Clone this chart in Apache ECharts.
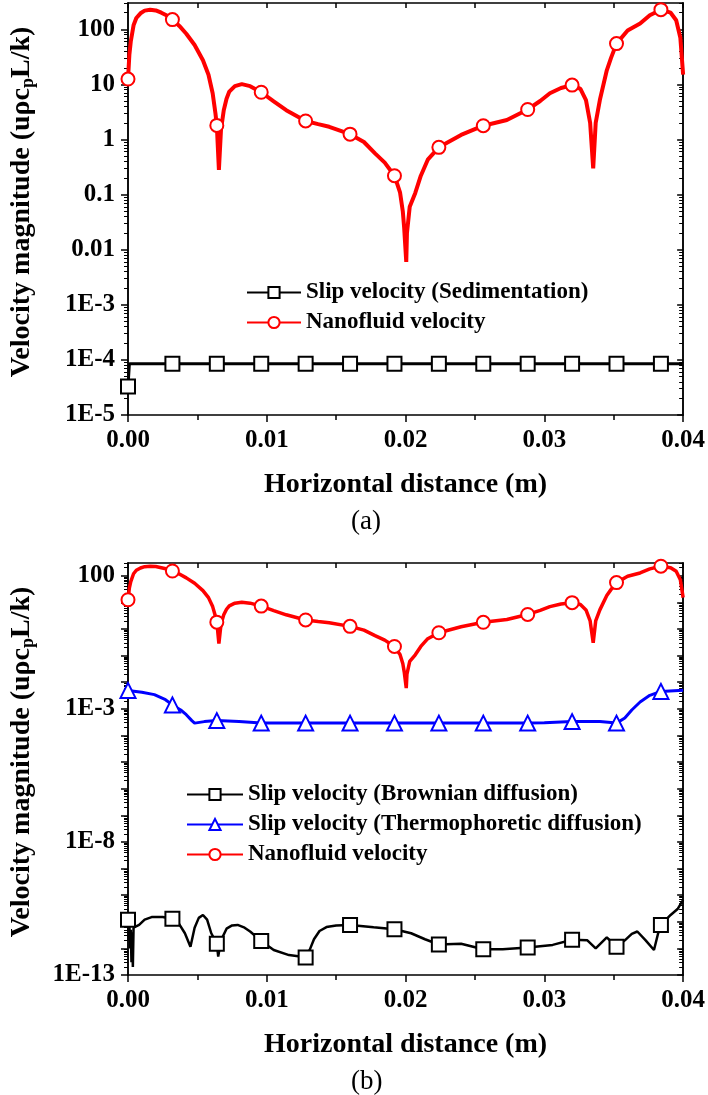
<!DOCTYPE html>
<html><head><meta charset="utf-8">
<script src="https://cdn.jsdelivr.net/npm/echarts@6/dist/echarts.min.js"></script>
<style>html,body{margin:0;padding:0;background:#fff}#c{width:708px;height:1095px}</style>
</head><body><div id="c"></div>
<script>
// ---------- data ----------
const markerX = [0, 0.0032, 0.0064, 0.0096, 0.0128, 0.016, 0.0192, 0.0224, 0.0256, 0.0288, 0.032, 0.0352, 0.0384];

// Nanofluid velocity (same curve in (a) and (b))
const nanoX = [0, 0.0001, 0.0002, 0.0004, 0.0006, 0.0009, 0.0012, 0.0016, 0.002, 0.0024, 0.0028, 0.0032, 0.0037, 0.0042, 0.0048,
  0.0054, 0.0058, 0.0061, 0.0063, 0.0064, 0.00655, 0.0067, 0.0069, 0.0071, 0.0073, 0.0077, 0.0082, 0.0088, 0.0096, 0.0105, 0.0114,
  0.0128, 0.0137, 0.0145, 0.016, 0.017, 0.0178, 0.0185, 0.0192, 0.0196, 0.0198, 0.0199, 0.02005, 0.0201, 0.0203, 0.0207, 0.0211,
  0.0216, 0.0224, 0.024, 0.0256, 0.0273, 0.0288, 0.0297, 0.0304, 0.0312, 0.032, 0.0326, 0.033, 0.0333, 0.03352, 0.0337, 0.034,
  0.0345, 0.0348, 0.0352, 0.036, 0.0369, 0.0376, 0.0384, 0.0391, 0.0395, 0.0398, 0.04];
const nanoY = [12.5, 35, 60, 118, 160, 195, 218, 227, 220, 200, 178, 150, 115, 83, 52,
  27.5, 15, 6.9, 3, 1.8, 0.28, 1.5, 3.4, 5.5, 7.4, 9.3, 10.1, 9.3, 7.2, 4.9, 3.4,
  2.17, 1.9, 1.7, 1.25, 0.9, 0.56, 0.38, 0.22, 0.11, 0.05, 0.025, 0.006, 0.02, 0.06, 0.107, 0.22,
  0.43, 0.72, 1.21, 1.78, 2.26, 3.5, 5.0, 6.9, 8.6, 9.7, 8.3, 5.2, 2, 0.3, 2, 5.2,
  18, 30, 55, 95, 127, 180, 227, 200, 146, 70, 15];

// Slip velocity (Sedimentation)
const sedX = [0, 0.0001, 0.0032, 0.0064, 0.0096, 0.0128, 0.016, 0.0192, 0.0224, 0.0256, 0.0288, 0.032, 0.0352, 0.0384, 0.04];
const sedY = [3.3e-5, 8.5e-5, 8.5e-5, 8.5e-5, 8.5e-5, 8.5e-5, 8.5e-5, 8.5e-5, 8.5e-5, 8.5e-5, 8.5e-5, 8.5e-5, 8.5e-5, 8.5e-5, 8.5e-5];

// Slip velocity (Thermophoretic diffusion)
const thermoX = [0, 0.001, 0.0019, 0.0027, 0.0032, 0.0038, 0.0042, 0.0046, 0.0048, 0.0055, 0.0064, 0.008, 0.0096, 0.0128, 0.016, 0.0192,
  0.0224, 0.0256, 0.0288, 0.030, 0.032, 0.034, 0.0352, 0.0358, 0.0363, 0.0369, 0.0376, 0.0384, 0.04];
const thermoY = [4.9e-3, 4.2e-3, 3.4e-3, 2.2e-3, 1.4e-3, 9e-4, 6e-4, 3.6e-4, 2.9e-4, 3.3e-4, 3.6e-4, 3.3e-4, 2.9e-4, 2.9e-4, 2.9e-4, 2.9e-4,
  2.9e-4, 2.9e-4, 2.9e-4, 3.0e-4, 3.3e-4, 3.3e-4, 2.9e-4, 4.5e-4, 9e-4, 1.8e-3, 3.2e-3, 4.5e-3, 5.0e-3];

// Slip velocity (Brownian diffusion)
const brownX = [0, 0.00005, 0.0001, 0.00015, 0.0002, 0.00025, 0.0003, 0.00035, 0.0004, 0.0008, 0.0012, 0.0017, 0.0025, 0.0032, 0.0037,
  0.0041, 0.0045, 0.0048, 0.0051, 0.0054, 0.0057, 0.006, 0.0064, 0.0065, 0.0067, 0.0071, 0.0075, 0.0079, 0.0084, 0.0088, 0.0096,
  0.0105, 0.0116, 0.0124, 0.0128, 0.0131, 0.0134, 0.0138, 0.0143, 0.015, 0.016, 0.0177, 0.0192, 0.0204, 0.0214, 0.0224, 0.024,
  0.0256, 0.027, 0.0288, 0.0306, 0.032, 0.0331, 0.0337, 0.0345, 0.0352, 0.0358, 0.0363, 0.0367, 0.0373, 0.0379, 0.0382, 0.0384,
  0.0391, 0.0396, 0.04];
const brownY = [1.2e-11, 2e-12, 8e-12, 1e-12, 5e-12, 3e-13, 4e-12, 2e-13, 6e-12, 7.6e-12, 1.2e-11, 1.5e-11, 1.5e-11, 1.3e-11, 8e-12,
  3.7e-12, 1.15e-12, 6e-12, 1.4e-11, 1.8e-11, 1.2e-11, 3.7e-12, 1.5e-12, 4.9e-13, 2e-12, 5.5e-12, 7.3e-12, 7.6e-12, 6e-12, 4.3e-12, 1.9e-12,
  8.7e-13, 5.6e-13, 5e-13, 4.5e-13, 9e-13, 2.2e-12, 4.5e-12, 6.3e-12, 7.3e-12, 7.6e-12, 6.2e-12, 5.2e-12, 3.7e-12, 2.2e-12, 1.4e-12, 1.5e-12,
  9.3e-13, 9.3e-13, 1.07e-12, 1.35e-12, 2.1e-12, 2e-12, 1e-12, 2.6e-12, 1.15e-12, 2e-12, 3.5e-12, 4.3e-12, 2e-12, 8.7e-13, 3.7e-12, 7.6e-12,
  1.8e-11, 3e-11, 6.6e-11];

// axis ticks
const xTickValues = [0, 0.01, 0.02, 0.03, 0.04];
const yTickValuesA = [-5, -4, -3, -2, -1, 0, 1, 2];
const yTickLabelsA = ['1E-5', '1E-4', '1E-3', '0.01', '0.1', '1', '10', '100'];
const yTickValuesB = [-13, -8, -3, 2];
const yTickLabelsB = ['1E-13', '1E-8', '1E-3', '100'];
const yMaxValue = 300;

// ---------- build ----------
const FONT = '"Liberation Serif", "Times New Roman", serif';
const LOGMAX = Math.log10(yMaxValue);
function decades(lo, hi) { const a = []; for (let d = lo; d <= Math.floor(hi); d++) a.push(d); return a; }
function minors(lo, hi) {
  const a = [];
  for (let d = lo; d < Math.ceil(hi); d++) for (let k = 2; k <= 9; k++) { const v = d + Math.log10(k); if (v <= hi) a.push(v); }
  return a;
}
function pts(xs, ys) {
  return xs.map((x, i) => {
    const isM = markerX.some(m => Math.abs(m - x) < 1e-9);
    const o = { value: [x, Math.log10(ys[i])] };
    if (!isM) o.symbol = 'none';
    return o;
  });
}
function labelFor(vals, labs) { return v => { const i = vals.findIndex(t => Math.abs(t - v) < 1e-6); return i >= 0 ? labs[i] : ''; }; }

const axisLine = { show: true, onZero: false, lineStyle: { color: '#000', width: 1.5 } };
const grids = [
  { left: 124, top: 3, width: 560, height: 412 },
  { left: 124, top: 563, width: 560, height: 412 }
];

const xAxes = [], yAxes = [];
[0, 1].forEach(g => {
  xAxes.push({
    type: 'value', gridIndex: g, min: 0, max: 0.04, interval: 0.01, position: 'bottom',
    axisLine, splitLine: { show: false },
    axisTick: { show: true, inside: false, length: 7, lineStyle: { color: '#000', width: 1.5 } },
    minorTick: { show: true, splitNumber: 2, length: 5, lineStyle: { color: '#000', width: 1.5 } },
    minorSplitLine: { show: false },
    axisLabel: { color: '#000', fontFamily: FONT, fontWeight: 'bold', fontSize: 25, margin: 13,
      customValues: xTickValues, formatter: v => v.toFixed(2) },
    name: 'Horizontal distance (m)', nameLocation: 'middle', nameGap: 56,
    nameTextStyle: { color: '#000', fontFamily: FONT, fontWeight: 'bold', fontSize: 28 }
  });
  xAxes.push({
    type: 'value', gridIndex: g, min: 0, max: 0.04, interval: 0.005, position: 'top',
    axisLine, splitLine: { show: false }, axisLabel: { show: false },
    axisTick: { show: true, inside: true, length: 5, lineStyle: { color: '#000', width: 1.5 } }
  });
  const lo = g === 0 ? -5 : -13;
  const tv = g === 0 ? yTickValuesA : yTickValuesB;
  const tl = g === 0 ? yTickLabelsA : yTickLabelsB;
  const base = { type: 'value', gridIndex: g, min: lo, max: LOGMAX, splitLine: { show: false }, axisLine };
  yAxes.push(Object.assign({}, base, {
    position: 'left',
    axisTick: { show: true, inside: false, length: 7, customValues: decades(lo, LOGMAX), lineStyle: { color: '#000', width: 1.5 } },
    axisLabel: { color: '#000', fontFamily: FONT, fontWeight: 'bold', fontSize: 25, margin: 13, customValues: tv, formatter: labelFor(tv, tl) },
    name: 'Velocity magnitude (uρc{sub|p}L/k)', nameLocation: 'middle', nameGap: 91,
    nameTextStyle: { color: '#000', fontFamily: FONT, fontWeight: 'bold', fontSize: 28, padding: [0, 0, 0, 14],
      rich: { sub: { fontFamily: FONT, fontWeight: 'bold', fontSize: 18, color: '#000', verticalAlign: 'bottom', padding: [12, 0, 0, 0] } } }
  }));
  yAxes.push(Object.assign({}, base, {
    position: 'left', axisLabel: { show: false },
    axisTick: { show: true, inside: false, length: 4, customValues: minors(lo, LOGMAX), lineStyle: { color: '#000', width: 1 } }
  }));
  yAxes.push(Object.assign({}, base, {
    position: 'right', axisLabel: { show: false },
    axisTick: { show: true, inside: true, length: 6, customValues: decades(lo, LOGMAX), lineStyle: { color: '#000', width: 1.5 } }
  }));
  yAxes.push(Object.assign({}, base, {
    position: 'right', axisLabel: { show: false },
    axisTick: { show: true, inside: true, length: 4, customValues: minors(lo, LOGMAX), lineStyle: { color: '#000', width: 1 } }
  }));
});

function lineSeries(name, g, xs, ys, color, symbol, width, size) {
  return {
    type: 'line', name, xAxisIndex: g * 2, yAxisIndex: g * 4, data: pts(xs, ys),
    symbol, symbolSize: size, showAllSymbol: true, smooth: false,
    lineStyle: { color, width }, itemStyle: { color, borderColor: color, borderWidth: 1.5 },
    emphasis: { disabled: true }, animation: false, z: name.startsWith('Nano') ? 3 : 2
  };
}

const legendText = { color: '#000', fontFamily: FONT, fontWeight: 'bold', fontSize: 23 };
const option = {
  animation: false,
  backgroundColor: '#fff',
  grid: grids,
  xAxis: xAxes,
  yAxis: yAxes,
  legend: [
    { orient: 'vertical', left: 241, top: 276, itemWidth: 54, itemHeight: 14, itemGap: 7, textStyle: legendText,
      data: ['Slip velocity (Sedimentation)', 'Nanofluid velocity'], selectedMode: false },
    { orient: 'vertical', left: 181, top: 778, itemWidth: 56, itemHeight: 14, itemGap: 7, textStyle: legendText,
      data: ['Slip velocity (Brownian diffusion)', 'Slip velocity (Thermophoretic diffusion)', 'Nanofluid velocity'], selectedMode: false }
  ],
  title: [
    { text: '(a)', left: 346, top: 503, textStyle: { color: '#000', fontFamily: FONT, fontWeight: 'normal', fontSize: 27 } },
    { text: '(b)', left: 346, top: 1063, textStyle: { color: '#000', fontFamily: FONT, fontWeight: 'normal', fontSize: 27 } }
  ],
  series: [
    lineSeries('Slip velocity (Sedimentation)', 0, sedX, sedY, '#000', 'emptyRect', 3, 14),
    lineSeries('Nanofluid velocity', 0, nanoX, nanoY, '#ff0000', 'emptyCircle', 4, 13),
    lineSeries('Slip velocity (Brownian diffusion)', 1, brownX, brownY, '#000', 'emptyRect', 2.5, 14),
    lineSeries('Slip velocity (Thermophoretic diffusion)', 1, thermoX, thermoY, '#0000ff', 'emptyTriangle', 3, 15),
    lineSeries('Nanofluid velocity', 1, nanoX, nanoY, '#ff0000', 'emptyCircle', 3.5, 13)
  ]
};
const chart = echarts.init(document.getElementById('c'), null, { renderer: 'canvas' });
chart.setOption(option);
</script></body></html>
